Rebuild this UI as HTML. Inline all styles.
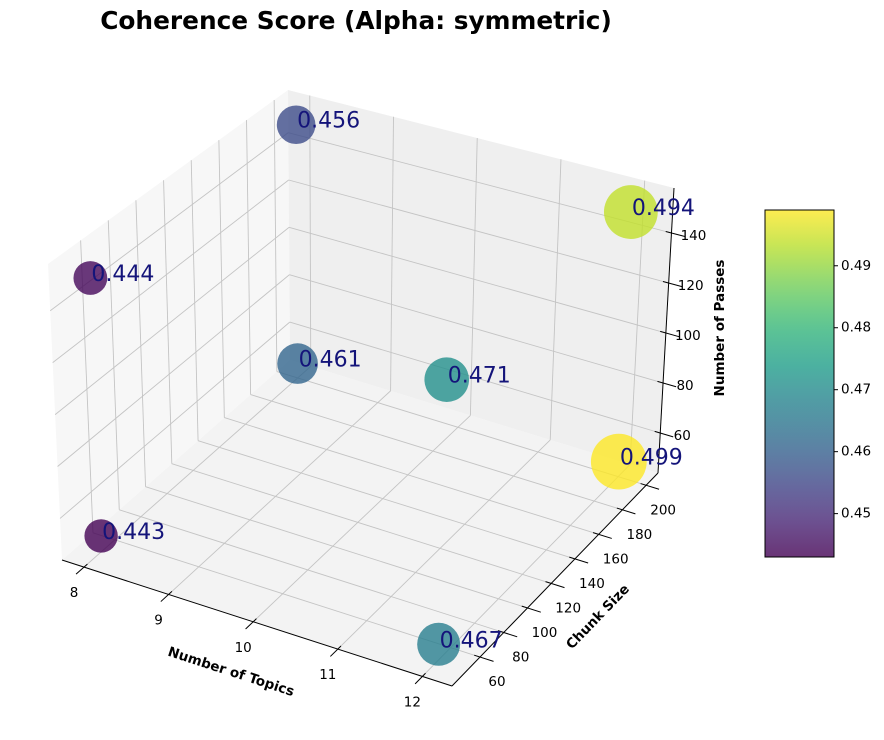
<!DOCTYPE html>
<html><head><meta charset="utf-8"><style>
html,body{margin:0;padding:0;background:#fff;}
svg{display:block;font-family:"DejaVu Sans","Liberation Sans",sans-serif;}
</style></head><body>
<svg id="chart" width="884" height="740" viewBox="0 0 884 740" xmlns="http://www.w3.org/2000/svg">
<text x="356" y="29" text-anchor="middle" font-size="24.8" font-weight="bold">Coherence Score (Alpha: symmetric)</text>
<g id="panes"></g><g id="grid"></g><g id="axes"></g><g id="marks"></g>
<g id="colorbar"></g>
</svg>
<script>
const topics = [8, 8, 8, 8, 9.85, 12, 12, 12];
const chunkSizes = [50, 50, 200, 200, 200, 200, 200, 50];
const passes = [50, 150, 150, 50, 62, 150, 50, 50];
const scores = [0.443, 0.444, 0.456, 0.461, 0.471, 0.494, 0.499, 0.467];
const xTicks = [8, 9, 10, 11, 12];
const yTicks = [60, 80, 100, 120, 140, 160, 180, 200];
const zTicks = [60, 80, 100, 120, 140];
const cbTicks = [0.45, 0.46, 0.47, 0.48, 0.49];

const NS = "http://www.w3.org/2000/svg";
const X0 = 7.74, X1 = 12.35, Y0 = 36.4, Y1 = 210, Z0 = 44, Z1 = 158;
const C = {
  "000": [62, 560], "100": [452, 686], "110": [658, 473], "010": [290, 360],
  "001": [48, 264], "101": [452, 390], "111": [674, 188], "011": [288, 90]
};
function tri(u, v, w) {
  let x = 0, y = 0;
  for (const a of [0, 1]) for (const b of [0, 1]) for (const c of [0, 1]) {
    const wt = (a ? u : 1 - u) * (b ? v : 1 - v) * (c ? w : 1 - w);
    const p = C["" + a + b + c];
    x += wt * p[0]; y += wt * p[1];
  }
  return [x, y];
}
function P(x, y, z) { return tri((x - X0) / (X1 - X0), (y - Y0) / (Y1 - Y0), (z - Z0) / (Z1 - Z0)); }
function mk(tag, attrs, parent) {
  const e = document.createElementNS(NS, tag);
  for (const k in attrs) e.setAttribute(k, attrs[k]);
  parent.appendChild(e); return e;
}
function line(a, b, stroke, sw, parent) { return mk("line", {x1: a[0], y1: a[1], x2: b[0], y2: b[1], stroke: stroke, "stroke-width": sw}, parent); }

const vir = [[68,1,84],[72,40,120],[62,73,137],[49,104,142],[38,130,142],[31,158,137],[53,183,121],[109,205,89],[180,222,44],[253,231,37]];
function viridis(t) {
  t = Math.max(0, Math.min(1, t)) * (vir.length - 1);
  const i = Math.min(vir.length - 2, Math.floor(t)), f = t - i;
  return vir[i].map((c, k) => Math.round(c + (vir[i + 1][k] - c) * f));
}
const VMIN = 0.443, VMAX = 0.499;
function col(s, a) { const c = viridis((s - VMIN) / (VMAX - VMIN)); return `rgba(${c[0]},${c[1]},${c[2]},${a})`; }

const panes = document.getElementById("panes");
const poly = (pts, fill, name) => {
  const e = mk("polygon", {points: pts.map(p => p.join(",")).join(" "), fill: fill}, panes);
  
  
};
poly([C["000"], C["100"], C["110"], C["010"]], "#f3f3f3", "floor-pane");
poly([C["000"], C["010"], C["011"], C["001"]], "#f7f7f7", "left-pane");
poly([C["010"], C["110"], C["111"], C["011"]], "#efefef", "back-pane");

const grid = document.getElementById("grid");
const gc = "#c4c4c4", gw = 0.9;
for (const t of xTicks) {
  const g1 = line(P(t, Y0, Z0), P(t, Y1, Z0), gc, gw, grid);
  
  
  const g2 = line(P(t, Y1, Z0), P(t, Y1, Z1), gc, gw, grid);
  
  
}
for (const t of yTicks) {
  const g1 = line(P(X0, t, Z0), P(X1, t, Z0), gc, gw, grid);
  
  
  const g2 = line(P(X0, t, Z0), P(X0, t, Z1), gc, gw, grid);
  
  
}
for (const t of zTicks) {
  const g1 = line(P(X0, Y0, t), P(X0, Y1, t), gc, gw, grid);
  
  
  const g2 = line(P(X0, Y1, t), P(X1, Y1, t), gc, gw, grid);
  
  
}

const axes = document.getElementById("axes");
const ax1 = line(C["000"], C["100"], "#000", 1, axes);


const ax2 = line(C["100"], C["110"], "#000", 1, axes);


const ax3 = line(C["110"], C["111"], "#000", 1, axes);


function label(txt, x, y, name, extra) {
  const e = mk("text", Object.assign({x: x, y: y, "text-anchor": "middle", "dominant-baseline": "central", "font-size": 13.5}, extra || {}), axes);
  e.textContent = txt;
  
  
  return e;
}
const dy = (Y1 - Y0), dx = (X1 - X0);
for (const t of xTicks) {
  const tk = line(P(t, Y0 - 0.035 * dy, Z0), P(t, Y0 + 0.015 * dy, Z0), "#000", 1, axes);
  
  
  const p = P(t, Y0, Z0);
  label(String(t), p[0] - 10, p[1] + 26, "x-tick-label");
}
for (const t of yTicks) {
  const tk = line(P(X1 - 0.015 * dx, t, Z0), P(X1 + 0.035 * dx, t, Z0), "#000", 1, axes);
  
  
  const p = P(X1, t, Z0);
  label(String(t), p[0] + 17, p[1] + 25, "y-tick-label");
}
for (const t of zTicks) {
  const tk = line(P(X1 - 0.015 * dx, Y1, t), P(X1 + 0.035 * dx, Y1, t), "#000", 1, axes);
  
  
  const p = P(X1, Y1, t);
  label(String(t), p[0] + 22, p[1] + 3, "z-tick-label");
}
label("Number of Topics", 231, 672, "x-axis-title", {"font-weight": "bold", "font-size": 13.5, transform: "rotate(18 231 672)"});
label("Chunk Size", 598, 617, "y-axis-title", {"font-weight": "bold", "font-size": 13.5, transform: "rotate(-46 598 617)"});
label("Number of Passes", 720, 328, "z-axis-title", {"font-weight": "bold", "font-size": 13.5, transform: "rotate(-90 720 328)"});

const marks = document.getElementById("marks");
for (let i = 0; i < scores.length; i++) {
  const p = P(topics[i], chunkSizes[i], passes[i]);
  const r = 16.7 + (scores[i] - VMIN) * 200;
  const c = mk("circle", {cx: p[0], cy: p[1], r: r, fill: col(scores[i], 0.8)}, marks);
  
  
}
for (let i = 0; i < scores.length; i++) {
  const p = P(topics[i], chunkSizes[i], passes[i]);
  const t = mk("text", {x: p[0] + 1, y: p[1] + 3, "font-size": 22, fill: "#14147a"}, marks);
  t.textContent = scores[i].toFixed(3);
  
  
}

const cb = document.getElementById("colorbar");
const defs = mk("defs", {}, cb);
const lg = mk("linearGradient", {id: "vg", x1: 0, y1: 1, x2: 0, y2: 0}, defs);
for (let k = 0; k <= 20; k++) {
  const c = viridis(k / 20);
  mk("stop", {offset: k / 20, "stop-color": `rgb(${c[0]},${c[1]},${c[2]})`, "stop-opacity": 0.8}, lg);
}
const CB_TOP = 210, CB_BOT = 557;
const cby = v => CB_BOT - (v - VMIN) / (VMAX - VMIN) * (CB_BOT - CB_TOP);
const bar = mk("rect", {x: 765, y: CB_TOP, width: 69, height: CB_BOT - CB_TOP, fill: "url(#vg)", stroke: "#000", "stroke-width": 1}, cb);


for (const t of cbTicks) {
  const y = cby(t);
  const tk = line([834, y], [838, y], "#000", 1, cb);
  
  
  const e = mk("text", {x: 841, y: y, "dominant-baseline": "central", "font-size": 13.5}, cb);
  e.textContent = t.toFixed(2);
  
  
}
</script>
</body></html>
